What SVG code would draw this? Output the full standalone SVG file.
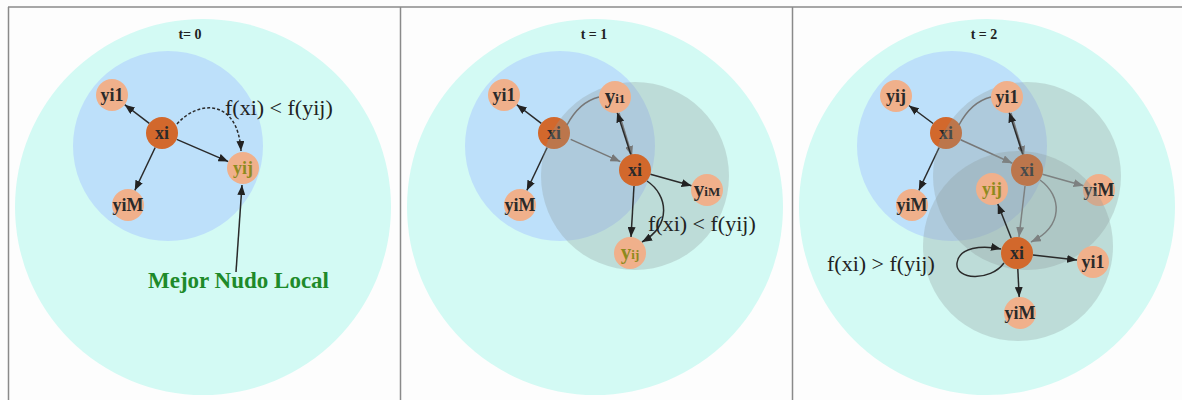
<svg xmlns="http://www.w3.org/2000/svg" width="1182" height="400" viewBox="0 0 1182 400">
<defs>
<marker id="ah" markerWidth="10" markerHeight="8" refX="10" refY="4" orient="auto" markerUnits="userSpaceOnUse"><path d="M0,0 L10,4 L0,8 z" fill="#222"/></marker>
<marker id="ahg" markerWidth="10" markerHeight="8" refX="10" refY="4" orient="auto" markerUnits="userSpaceOnUse"><path d="M0,0 L10,4 L0,8 z" fill="#777"/></marker>
<style>
.frame{stroke:#8a8a8a;stroke-width:1.5;fill:none}
.cyan{fill:#d3faf4}
.blue{fill:#bde0fa}
.gray{fill:#8c9898;fill-opacity:0.3}
.light{fill:#f0b08b}
.dark{fill:#d2682c}
.lbl{font-family:"Liberation Serif",serif;font-weight:bold;font-size:18px;fill:#2a2a2a;text-anchor:middle}
.best{fill:#8e8a1e}
.edge{stroke:#2a2a2a;stroke-width:1.5;fill:none;marker-end:url(#ah)}
.gedge{stroke:#777;stroke-width:1.5;fill:none;marker-end:url(#ahg)}
.gline{stroke:#777;stroke-width:1.5;fill:none}
.cond{font-family:"Liberation Serif",serif;font-size:22px;fill:#222}
.title{font-family:"Liberation Serif",serif;font-weight:bold;font-size:14px;fill:#222;text-anchor:middle}
.small{font-size:13px}
</style>
</defs>
<rect width="1182" height="400" fill="#fdfdfd"/>
<g id="frame">
<line class="frame" x1="8" y1="7" x2="1182" y2="7"/>
<line class="frame" x1="8.5" y1="7" x2="8.5" y2="400"/>
<line class="frame" x1="400.5" y1="7" x2="400.5" y2="400"/>
<line class="frame" x1="792.5" y1="7" x2="792.5" y2="400"/>
</g>

<!-- Panel 1 -->
<g id="panel1">
<circle class="cyan" cx="203" cy="207" r="188"/>
<circle class="blue" cx="168" cy="146" r="95"/>
<text class="title" x="190" y="39">t= 0</text>
<g id="p1-edges">
<line class="edge" x1="149.3" y1="123.3" x2="124.7" y2="104.7"/>
<line class="edge" x1="155.2" y1="147.5" x2="134.8" y2="190.5"/>
<line class="edge" x1="176.7" y1="139.4" x2="228.3" y2="161.6"/>
<path class="edge" d="M177,124 C198,100 238,98 241,151" stroke-dasharray="3,2"/>
<line class="edge" x1="236" y1="272" x2="242" y2="185" stroke-width="1.2"/>
</g>
<g id="p1-yi1"><circle class="light" cx="112" cy="95" r="16"/><text class="lbl" x="112" y="101">yi1</text></g>
<g id="p1-xi"><circle class="dark" cx="162" cy="133" r="16"/><text class="lbl" x="162" y="139">xi</text></g>
<g id="p1-yij"><circle class="light" cx="243" cy="168" r="16"/><text class="lbl best" x="243" y="174">yij</text></g>
<g id="p1-yiM"><circle class="light" cx="128" cy="205" r="16"/><text class="lbl" x="128" y="211">yiM</text></g>
<text class="cond" x="225" y="115">f(xi) &lt; f(yij)</text>
<text x="148" y="288" font-family="Liberation Serif,serif" font-weight="bold" font-size="23" fill="#1e8a2a">Mejor Nudo Local</text>
</g>

<!-- Panel 2 -->
<g id="panel2">
<circle class="cyan" cx="595" cy="207" r="188"/>
<circle class="blue" cx="560" cy="146" r="95"/>
<text class="title" x="594" y="39">t = 1</text>
<g id="p2-edges-old">
<line class="edge" x1="541.3" y1="123.3" x2="516.7" y2="104.7"/>
<line class="edge" x1="547.2" y1="147.5" x2="526.8" y2="190.5"/>
</g>
<g id="p2-yi1a"><circle class="light" cx="504" cy="95" r="16"/><text class="lbl" x="504" y="101">yi1</text></g>
<g id="p2-xi-old"><circle class="dark" cx="554" cy="133" r="16"/><text class="lbl" x="554" y="139" fill="#8a8a8a">xi</text></g>
<g id="p2-yiMa"><circle class="light" cx="520" cy="205" r="16"/><text class="lbl" x="520" y="211">yiM</text></g>
<circle class="gray" cx="635" cy="176" r="94"/>
<g id="p2-edges-new">
<line class="gedge" x1="570.7" y1="139.4" x2="620.3" y2="161.6"/>
<path class="gline" d="M567,125 C576,108 587,100 599,97"/>
<line class="gedge" x1="619" y1="113" x2="632" y2="156"/>
<line class="edge" x1="630.8" y1="154.6" x2="617.2" y2="112.4"/>
<line class="edge" x1="650.4" y1="174.3" x2="691.6" y2="185.7"/>
<line class="edge" x1="634" y1="186" x2="631" y2="237"/>
<path class="edge" d="M647,181 C668,195 672,225 642,242" stroke-width="1.2"/>
</g>
<g id="p2-yi1b"><circle class="light" cx="615" cy="97" r="16"/><text class="lbl" x="615" y="103"><tspan font-size="21">y</tspan><tspan class="small">i1</tspan></text></g>
<g id="p2-xi"><circle class="dark" cx="635" cy="170" r="16"/><text class="lbl" x="635" y="176">xi</text></g>
<g id="p2-yiMb"><circle class="light" cx="707" cy="190" r="16"/><text class="lbl" x="707" y="196"><tspan font-size="21">y</tspan><tspan class="small">iM</tspan></text></g>
<g id="p2-yij"><circle class="light" cx="630" cy="253" r="16"/><text class="lbl best" x="630" y="259"><tspan font-size="21">y</tspan><tspan class="small">ij</tspan></text></g>
<text class="cond" x="648" y="231">f(xi) &lt; f(yij)</text>
</g>

<!-- Panel 3 -->
<g id="panel3">
<circle class="cyan" cx="987" cy="207" r="188"/>
<circle class="blue" cx="952" cy="146" r="95"/>
<text class="title" x="984" y="39">t = 2</text>
<g id="p3-edges-old">
<line class="edge" x1="933.1" y1="123.5" x2="908.9" y2="105.5"/>
<line class="edge" x1="939.2" y1="147.5" x2="918.8" y2="190.5"/>
</g>
<g id="p3-yij-a"><circle class="light" cx="896" cy="96" r="16"/><text class="lbl" x="896" y="102">yij</text></g>
<g id="p3-xi-a"><circle class="dark" cx="946" cy="133" r="16"/><text class="lbl" x="946" y="139" fill="#8a8a8a">xi</text></g>
<g id="p3-yiM-a"><circle class="light" cx="912" cy="205" r="16"/><text class="lbl" x="912" y="211">yiM</text></g>
<circle class="gray" cx="1027" cy="176" r="94"/>
<g id="p3-edges-mid">
<line class="gedge" x1="960.6" y1="139.7" x2="1012.4" y2="163.3"/>
<path class="gline" d="M959,125 C968,108 979,100 991,97"/>
<line class="gedge" x1="1011" y1="113" x2="1024" y2="156"/>
<line class="edge" x1="1022.8" y1="154.6" x2="1009.2" y2="112.4"/>
<line class="gedge" x1="1042.4" y1="174.3" x2="1083.6" y2="185.7"/>
<line class="gedge" x1="1025" y1="186" x2="1019" y2="237"/>
<path class="gedge" d="M1040,180 C1062,196 1064,226 1031,242" stroke-width="1.2"/>
</g>
<g id="p3-yi1-b"><circle class="light" cx="1007" cy="97" r="16"/><text class="lbl" x="1007" y="103">yi1</text></g>
<g id="p3-xi-b"><circle class="dark" cx="1027" cy="170" r="16"/><text class="lbl" x="1027" y="176">xi</text></g>
<g id="p3-yiM-b"><circle class="light" cx="1099" cy="190" r="16"/><text class="lbl" x="1099" y="196">yiM</text></g>
<circle class="gray" cx="1018" cy="246" r="95"/>
<g id="p3-edges-new">
<line class="edge" x1="1011.2" y1="238.1" x2="997.8" y2="203.9"/>
<line class="edge" x1="1032.9" y1="254.9" x2="1077.1" y2="260.1"/>
<line class="edge" x1="1017.8" y1="269" x2="1019.2" y2="297"/>
<path class="edge" d="M1004,263 C990,282 955,280 957,263 C959,247 982,245 1001,249" stroke-width="1.2"/>
</g>
<g id="p3-yij-c"><circle class="light" cx="992" cy="189" r="16"/><text class="lbl best" x="992" y="195">yij</text></g>
<g id="p3-xi-c"><circle class="dark" cx="1017" cy="253" r="16"/><text class="lbl" x="1017" y="259">xi</text></g>
<g id="p3-yi1-c"><circle class="light" cx="1093" cy="262" r="16"/><text class="lbl" x="1093" y="268">yi1</text></g>
<g id="p3-yiM-c"><circle class="light" cx="1020" cy="313" r="16"/><text class="lbl" x="1020" y="319">yiM</text></g>
<text class="cond" x="827" y="271">f(xi) &gt; f(yij)</text>
</g>
</svg>
